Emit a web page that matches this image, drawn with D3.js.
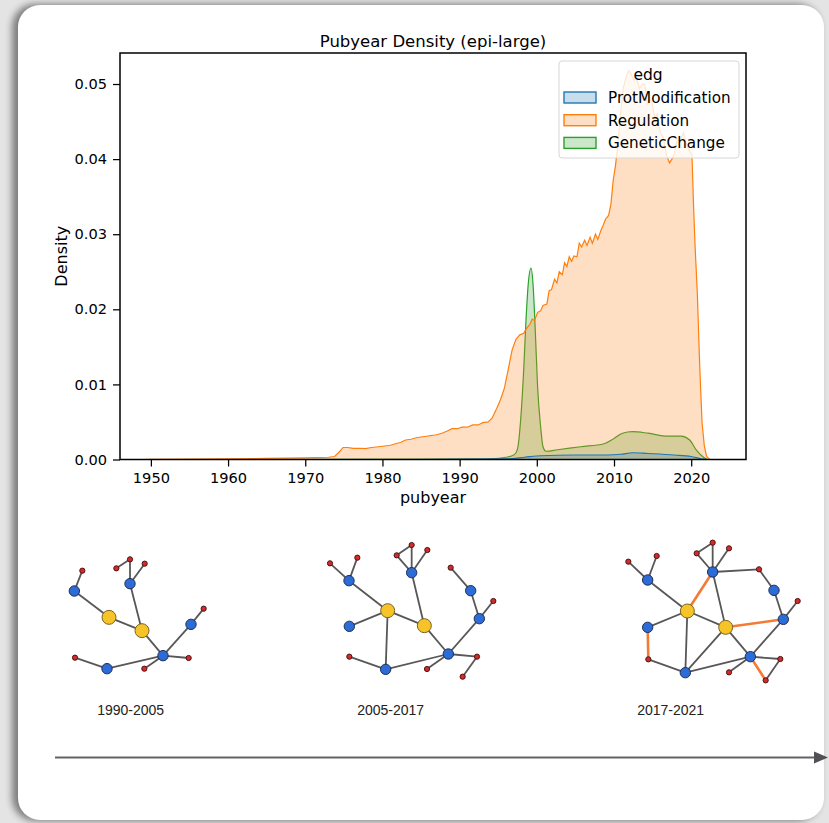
<!DOCTYPE html>
<html>
<head>
<meta charset="utf-8">
<script src="https://cdn.jsdelivr.net/npm/d3@7"></script>
<style>
  html, body { margin: 0; padding: 0; }
  body { width: 829px; height: 823px; background: #e4e4e4; position: relative; overflow: hidden; }
  #card { position: absolute; left: 18px; top: 5px; width: 806px; height: 815px; background: #fff;
          border-radius: 22px; box-shadow: -5px 0 7px 1px rgba(0,0,0,0.45); }
  svg { position: absolute; left: 0; top: 0; }
</style>
</head>
<body>
<div id="card"></div>
<svg id="chart" width="829" height="823"></svg>
<script>
// ---- density data: [pubyear, density]
const regulation = [
  [1949, 0], [1950, 0.00003], [1955, 0.00005], [1960, 0.0001], [1965, 0.00015], [1970, 0.00022],
  [1973, 0.0003], [1973.8, 0.0004], [1974.4, 0.001], [1974.9, 0.0016], [1975.5, 0.0016],
  [1976.2, 0.00148], [1977, 0.0015], [1977.8, 0.00145], [1978.6, 0.0016], [1979.5, 0.0017],
  [1980.3, 0.0018], [1981, 0.0019], [1981.7, 0.0021], [1982.4, 0.0023], [1983, 0.0026],
  [1983.7, 0.0027], [1984.4, 0.0029], [1985, 0.003], [1985.7, 0.0031], [1986.4, 0.0032],
  [1987, 0.0033], [1987.7, 0.0035], [1988.4, 0.0038], [1989, 0.0041], [1989.7, 0.0041],
  [1990.3, 0.0043], [1991, 0.0043], [1991.7, 0.0046], [1992.4, 0.0046], [1993, 0.0049],
  [1993.7, 0.005], [1994.2, 0.0055], [1994.8, 0.0068], [1995.3, 0.008], [1995.8, 0.0095],
  [1996.3, 0.012], [1996.8, 0.0146], [1997.3, 0.016], [1997.8, 0.0166], [1998.3, 0.0168],
  [1998.7, 0.0175], [1999.1, 0.018], [1999.4, 0.0187], [1999.7, 0.0185], [2000.1, 0.0196],
  [2000.5, 0.0198], [2000.8, 0.0205], [2001.3, 0.0207], [2001.6, 0.0225], [2001.9, 0.0226],
  [2002.3, 0.024], [2002.6, 0.0235], [2002.9, 0.025], [2003.3, 0.0246], [2003.6, 0.0262],
  [2003.9, 0.0257], [2004.2, 0.027], [2004.5, 0.0264], [2004.8, 0.0271], [2005.2, 0.027],
  [2005.5, 0.0288], [2005.8, 0.0283], [2006.2, 0.0292], [2006.5, 0.0285], [2006.9, 0.0296],
  [2007.2, 0.0288], [2007.6, 0.03], [2007.9, 0.0293], [2008.3, 0.0305], [2008.6, 0.0312],
  [2008.9, 0.032], [2009.3, 0.0325], [2009.6, 0.034], [2009.9, 0.0372], [2010.2, 0.0392],
  [2010.5, 0.042], [2010.8, 0.0455], [2011.2, 0.0495], [2011.6, 0.051], [2011.9, 0.0518],
  [2012.3, 0.0512], [2012.6, 0.0505], [2012.9, 0.0508], [2013.3, 0.0494], [2013.7, 0.05],
  [2014, 0.0499], [2014.3, 0.0472], [2014.6, 0.048], [2014.9, 0.0476], [2015.3, 0.0455],
  [2015.6, 0.046], [2016, 0.0435], [2016.4, 0.0428], [2016.8, 0.0405], [2017.2, 0.0395],
  [2017.5, 0.04], [2017.8, 0.0406], [2018.2, 0.0428], [2018.6, 0.0425], [2019, 0.0435],
  [2019.4, 0.042], [2019.7, 0.0412], [2020.1, 0.0406], [2020.3, 0.034], [2020.5, 0.0285],
  [2020.8, 0.022], [2021.1, 0.0125], [2021.4, 0.005], [2021.7, 0.0018], [2022, 0.0004], [2022.4, 0]
];
const geneticChange = [
  [1960, 0], [1990, 0.00005], [1994, 0.0001], [1996, 0.0003], [1996.8, 0.0005], [1997.3, 0.0009],
  [1997.6, 0.002], [1997.9, 0.0052], [1998.3, 0.0119], [1998.6, 0.0186], [1998.9, 0.0235],
  [1999.25, 0.0255], [1999.5, 0.0235], [1999.8, 0.0172], [2000.1, 0.0097], [2000.5, 0.0043],
  [2000.8, 0.0017], [2001.2, 0.0011], [2002.7, 0.0013], [2005.7, 0.0017], [2008.7, 0.0021],
  [2010, 0.0028], [2011.1, 0.0035], [2012.4, 0.0037], [2014.4, 0.0035], [2017, 0.0031],
  [2018.7, 0.0031], [2019.8, 0.0026], [2020.7, 0.0012], [2021.6, 0.0003], [2022.1, 0]
];
const protModification = [
  [1985, 0], [1991, 0.00005], [1996.2, 0.0001], [1998.4, 0.0003], [2000.5, 0.0005], [2004.9, 0.0006],
  [2009.2, 0.0006], [2010.9, 0.0007], [2012.4, 0.0009], [2014.4, 0.0008], [2017.8, 0.0006],
  [2020, 0.0004], [2021.3, 0.0001], [2022, 0]
];
const hueLevels = ["ProtModification", "Regulation", "GeneticChange"];
const hueColors = ["#1f77b4", "#ff7f0e", "#2ca02c"];
const xTicks = [1950, 1960, 1970, 1980, 1990, 2000, 2010, 2020];
const yTicks = [0, 0.01, 0.02, 0.03, 0.04, 0.05];

// ---- network snapshots (layout units, 750 x 600 frame per panel)
const periods = ["1990-2005", "2005-2017", "2017-2021"];
const nodes1 = [
  ["a", "leaf", 127, 122], ["b", "mid", 103, 183], ["c", "core", 207, 262], ["d", "core", 306, 302],
  ["e", "mid", 270, 161], ["f", "leaf", 229, 115], ["g", "leaf", 270, 88], ["h", "leaf", 314, 101],
  ["i", "mid", 453, 283], ["j", "leaf", 491, 236], ["k", "mid", 369, 377], ["l", "leaf", 446, 384],
  ["m", "leaf", 313, 416], ["n", "mid", 201, 416], ["o", "leaf", 105, 383]
];
const links1 = [["a","b"],["b","c"],["c","d"],["d","e"],["e","g"],["g","f"],["e","h"],["d","k"],
  ["k","i"],["i","j"],["k","l"],["k","m"],["k","n"],["n","o"]];
const nodes2 = [
  ["a", "leaf", 90, 100], ["b", "leaf", 172, 83], ["c", "mid", 147, 152], ["d", "core", 263, 242],
  ["e", "mid", 148, 289], ["f", "core", 373, 287], ["g", "mid", 335, 128], ["h", "leaf", 290, 76],
  ["i", "leaf", 335, 45], ["j", "leaf", 382, 60], ["k", "leaf", 452, 113], ["l", "mid", 512, 182],
  ["m", "mid", 538, 266], ["n", "leaf", 580, 213], ["o", "mid", 445, 372], ["p", "leaf", 531, 380],
  ["q", "leaf", 488, 440], ["r", "leaf", 381, 417], ["s", "mid", 257, 418], ["t", "leaf", 148, 380]
];
const links2 = [["a","c"],["b","c"],["c","d"],["d","e"],["d","f"],["d","s"],["f","g"],["g","h"],
  ["h","i"],["g","i"],["g","j"],["f","o"],["o","m"],["m","l"],["l","k"],["m","n"],["o","p"],
  ["p","q"],["o","r"],["o","s"],["s","t"]];
const nodes3 = [
  ["a", "leaf", 145, 95], ["b", "leaf", 230, 78], ["c", "mid", 203, 150], ["d", "core", 322, 243],
  ["e", "mid", 203, 292], ["f", "leaf", 205, 388], ["g", "mid", 316, 428], ["h", "core", 437, 292],
  ["i", "mid", 398, 126], ["j", "leaf", 350, 70], ["k", "leaf", 398, 38], ["l", "leaf", 447, 55],
  ["m", "leaf", 537, 118], ["n", "mid", 582, 181], ["o", "mid", 610, 268], ["p", "leaf", 653, 213],
  ["q", "mid", 511, 380], ["r", "leaf", 601, 387], ["s", "leaf", 557, 451], ["t", "leaf", 447, 427]
];
const links3 = [["a","c"],["b","c"],["c","d"],["d","i","new"],["d","e"],["d","g"],["d","h"],
  ["i","j"],["j","k"],["i","k"],["i","l"],["i","m"],["m","n"],["n","o"],["o","p"],["h","o","new"],
  ["i","h"],["h","q"],["g","h"],["g","q"],["g","f"],["e","f","new"],["o","q"],["q","r"],["r","s"],
  ["q","s","new"],["q","t"]];

const svg = d3.select("#chart");
const font = "DejaVu Sans, sans-serif";

// ---- density plot
const plot = { left: 120, right: 746, top: 53, bottom: 459.5 };
const x = d3.scaleLinear().domain([1946, 2027.1]).range([plot.left, plot.right]);
const y = d3.scaleLinear().domain([0, 0.05413]).range([plot.bottom, plot.top]);

const area = d3.area().x(d => x(d[0])).y0(y(0)).y1(d => y(d[1]));
const line = d3.line().x(d => x(d[0])).y(d => y(d[1]));
const smoothArea = d3.area().curve(d3.curveMonotoneX).x(d => x(d[0])).y0(y(0)).y1(d => y(d[1]));
const smoothLine = d3.line().curve(d3.curveMonotoneX).x(d => x(d[0])).y(d => y(d[1]));

const series = [
  { data: geneticChange, color: hueColors[2], smooth: true },
  { data: regulation, color: hueColors[1], smooth: false },
  { data: protModification, color: hueColors[0], smooth: true }
];
const g = svg.append("g");
series.forEach(s => {
  g.append("path").attr("d", (s.smooth ? smoothArea : area)(s.data))
    .attr("fill", s.color).attr("fill-opacity", 0.25);
  g.append("path").attr("d", (s.smooth ? smoothLine : line)(s.data))
    .attr("fill", "none").attr("stroke", s.color).attr("stroke-width", 1.2);
});

// axes
const xAxis = svg.append("g").attr("transform", `translate(0,${plot.bottom})`)
  .call(d3.axisBottom(x).tickValues(xTicks).tickFormat(d3.format("d")).tickSize(7).tickPadding(6));
const yAxis = svg.append("g").attr("transform", `translate(${plot.left},0)`)
  .call(d3.axisLeft(y).tickValues(yTicks).tickFormat(d3.format(".2f")).tickSize(7).tickPadding(6));
[xAxis, yAxis].forEach(a => {
  a.select(".domain").remove();
  a.selectAll("line").attr("stroke", "#000").attr("stroke-width", 1.25);
  a.selectAll("text").attr("font-family", font).attr("font-size", 14.6).attr("fill", "#000");
});
svg.append("rect").attr("x", plot.left).attr("y", plot.top)
  .attr("width", plot.right - plot.left).attr("height", plot.bottom - plot.top)
  .attr("fill", "none").attr("stroke", "#000").attr("stroke-width", 1.5);

svg.append("text").attr("x", (plot.left + plot.right) / 2).attr("y", 47)
  .attr("text-anchor", "middle").attr("font-family", font).attr("font-size", 16.5)
  .text("Pubyear Density (epi-large)");
svg.append("text").attr("x", (plot.left + plot.right) / 2).attr("y", 503)
  .attr("text-anchor", "middle").attr("font-family", font).attr("font-size", 16)
  .text("pubyear");
svg.append("text").attr("transform", `translate(67,${(plot.top + plot.bottom) / 2}) rotate(-90)`)
  .attr("text-anchor", "middle").attr("font-family", font).attr("font-size", 16)
  .text("Density");

// legend
const leg = svg.append("g").attr("transform", "translate(559,61)");
leg.append("rect").attr("width", 180).attr("height", 97).attr("rx", 3)
  .attr("fill", "#fff").attr("fill-opacity", 0.8).attr("stroke", "#d6d6d6");
leg.append("text").attr("x", 89).attr("y", 19).attr("text-anchor", "middle")
  .attr("font-family", font).attr("font-size", 15.5).text("edg");
hueLevels.forEach((name, i) => {
  const row = leg.append("g").attr("transform", `translate(5,${31 + i * 22.7})`);
  row.append("rect").attr("width", 32).attr("height", 11)
    .attr("fill", hueColors[i]).attr("fill-opacity", 0.25)
    .attr("stroke", hueColors[i]).attr("stroke-width", 1.4);
  row.append("text").attr("x", 44).attr("y", 11).attr("font-family", font)
    .attr("font-size", 15.2).text(name);
});

// ---- network snapshots
const nodeR = d3.scaleOrdinal().domain(["core", "mid", "leaf"]).range([7, 5.2, 2.6]);
const nodeFill = d3.scaleOrdinal().domain(["core", "mid", "leaf"]).range(["#f6c428", "#2d6bd6", "#d42a2a"]);
const nodeStroke = d3.scaleOrdinal().domain(["core", "mid", "leaf"]).range(["#7a6320", "#1d2f55", "#4d1414"]);
const panels = [
  { nodes: nodes1, links: links1, ox: 40 },
  { nodes: nodes2, links: links2, ox: 300 },
  { nodes: nodes3, links: links3, ox: 580 }
];
panels.forEach((p, pi) => {
  const px = d3.scaleLinear().domain([0, 750]).range([p.ox, p.ox + 250]);
  const py = d3.scaleLinear().domain([0, 600]).range([530, 730]);
  const byId = new Map(p.nodes.map(n => [n[0], n]));
  const pg = svg.append("g");
  pg.selectAll("line").data(p.links).join("line")
    .attr("x1", d => px(byId.get(d[0])[2])).attr("y1", d => py(byId.get(d[0])[3]))
    .attr("x2", d => px(byId.get(d[1])[2])).attr("y2", d => py(byId.get(d[1])[3]))
    .attr("stroke", d => d[2] ? "#f47a36" : "#575757")
    .attr("stroke-width", d => d[2] ? 2.6 : 1.8);
  pg.selectAll("circle").data(p.nodes).join("circle")
    .attr("cx", d => px(d[2])).attr("cy", d => py(d[3])).attr("r", d => nodeR(d[1]))
    .attr("fill", d => nodeFill(d[1])).attr("stroke", d => nodeStroke(d[1])).attr("stroke-width", 1);
  pg.append("text").attr("x", px(272)).attr("y", py(556))
    .attr("text-anchor", "middle").attr("font-family", "Liberation Sans, Arial, sans-serif")
    .attr("font-size", 14).attr("fill", "#222").text(periods[pi]);
});

// timeline arrow
svg.append("line").attr("x1", 55).attr("x2", 815).attr("y1", 757.5).attr("y2", 757.5)
  .attr("stroke", "#626268").attr("stroke-width", 2.2);
svg.append("path").attr("d", "M814,751.5 L828,757.5 L814,763.5 Z").attr("fill", "#505055");
</script>
</body>
</html>
